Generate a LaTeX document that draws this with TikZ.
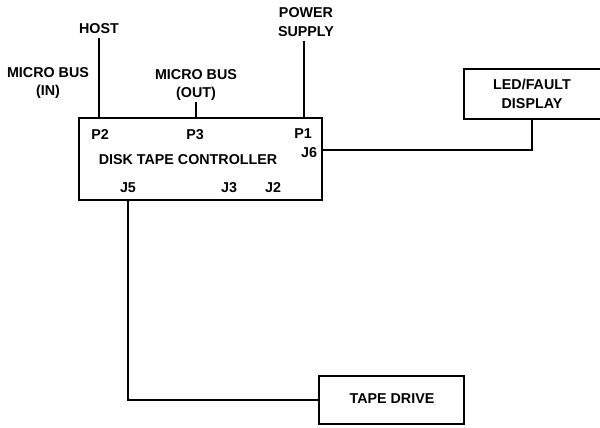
\documentclass[tikz,border=0pt]{standalone}
\usepackage{fontspec}
\setmainfont{Liberation Sans}
\usepackage{tikz}
\usetikzlibrary{positioning}

\begin{document}
\begin{tikzpicture}[
  x=1pt, y=-1pt,
  box/.style={draw, line width=1.8pt, inner sep=0pt},
  lbl/.style={font=\fontsize{14.3}{18.5}\selectfont\bfseries, inner sep=1pt, align=center},
  wire/.style={line width=1.1pt}
]
  \useasboundingbox (0,0) rectangle (600,428);

  % boxes
  \node[box, minimum width=243pt, minimum height=82pt] (dtc) at (200.5,159) {};
  \node[box, minimum width=150pt, minimum height=50pt] (led) at (539,94) {};
  \node[box, minimum width=145pt, minimum height=48pt] (tape) at (391.5,400) {};

  % texts in the boxes
  \node[lbl] (name) at (188,160) {DISK TAPE CONTROLLER};
  \node[lbl] (p2) at (100,135) {P2};
  \node[lbl] (p3) at (195,135) {P3};
  \node[lbl] (p1) at (303,134) {P1};
  \node[lbl] (j6) at (309,153) {J6};
  \node[lbl] (j5) at (128,188) {J5};
  \node[lbl] (j3) at (229,188) {J3};
  \node[lbl] (j2) at (273,188) {J2};
  \node[lbl] (ledtxt) at (532,94) {LED/FAULT\\DISPLAY};
  \node[lbl] (tapetxt) at (392,399) {TAPE DRIVE};

  % texts outside
  \node[lbl] (host) at (99,29) {HOST};
  \node[lbl] (power) at (306,22) {POWER\\SUPPLY};
  \node[lbl] (mbin) at (48,83) {MICRO BUS\\(IN)};
  \node[lbl] (mbout) at (196,85) {MICRO BUS\\(OUT)};

  \coordinate (p1in) at (304,118);
  \coordinate (j6out) at (322,150);
  \coordinate (ledin) at (532,119);

  % cables
  \draw[wire] (host.south) ++(0,3) -- (host.south |- dtc.north);
  \draw[wire] (p1in |- power.south) ++(0,3) -- (p1in);
  \draw[wire] (mbout.south) -- (mbout.south |- dtc.north);
  \draw[wire] (j6out) -| (ledin);
  \draw[wire] (j5.south |- dtc.south) |- (tape.west);
\end{tikzpicture}
\end{document}
